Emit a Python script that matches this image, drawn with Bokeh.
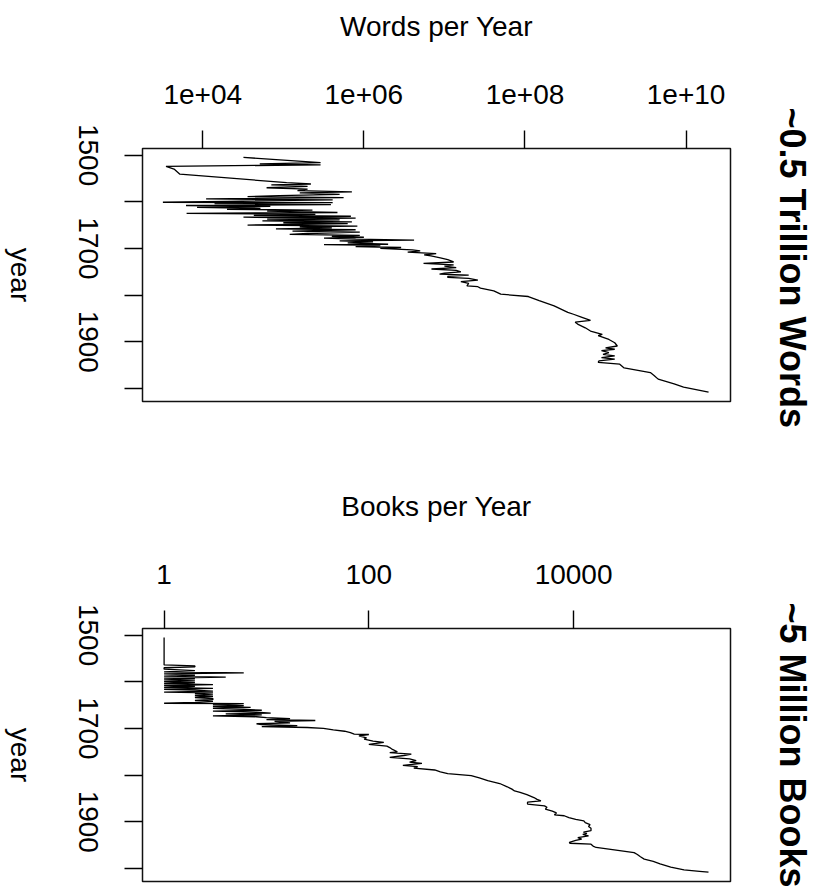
import math
from bokeh.plotting import figure
from bokeh.models import Range1d, FixedTicker, LinearAxis, Title
from bokeh.core.properties import value
from bokeh.layouts import column, row
from bokeh.embed import file_html
from bokeh.resources import INLINE

# ---- data ----
word_years = [1505, 1516, 1519, 1521, 1524, 1530, 1541, 1559, 1562, 1564, 1567, 1570, 1573, 1576,
              1579, 1581, 1584, 1587, 1589, 1591, 1594, 1596, 1599, 1601, 1602, 1604, 1606, 1608,
              1610, 1612, 1614, 1616, 1618, 1620, 1623, 1625, 1627, 1629, 1631, 1633, 1635, 1637,
              1639, 1641, 1643, 1645, 1647, 1650, 1652, 1654, 1656, 1658, 1660, 1663, 1665, 1668,
              1670, 1672, 1674, 1676, 1678, 1680, 1682, 1684, 1686, 1688, 1691, 1692, 1694, 1696,
              1698, 1700, 1703, 1705, 1708, 1711, 1714, 1716, 1720, 1724, 1729, 1732, 1735, 1738,
              1741, 1744, 1747, 1750, 1753, 1755, 1757, 1760, 1762, 1764, 1768, 1771, 1775, 1780,
              1782, 1785, 1791, 1798, 1803, 1812, 1823, 1837, 1841, 1847, 1854, 1858, 1862, 1870,
              1877, 1884, 1887, 1895, 1902, 1909, 1913, 1916, 1919, 1923, 1927, 1930, 1934, 1937,
              1941, 1944, 1948, 1956, 1966, 1972, 1980, 1990, 1997, 2008]
word_counts = [3.2e4, 2.9e5, 5.1e4, 2.9e5, 3.5e3, 4.4e3, 5.2e3, 1.1e5, 2.2e5, 7.1e4, 2.0e5, 6.2e4, 2.0e5, 1.5e5,
               7.1e5, 1.6e5, 5.0e5, 8.9e4, 3.6e4, 5.6e5, 1.1e4, 4.1e5, 2.0e4, 3.2e3, 4.1e5, 1.4e4, 3.9e5, 6.2e3,
               6.9e4, 8.5e3, 5.2e4, 2.0e4, 2.3e5, 6.3e4, 4.7e5, 6.3e3, 2.5e5, 4.3e4, 6.9e5, 3.2e4, 7.9e5, 6.3e4,
               5.0e5, 5.5e4, 7.1e5, 1.0e5, 6.3e5, 3.6e4, 8.3e5, 1.6e5, 4.0e5, 8.1e4, 7.9e5, 1.3e5, 8.9e5, 2.0e5,
               1.2e5, 8.9e5, 4.0e5, 1.0e6, 3.2e5, 7.9e5, 4.2e6, 5.0e5, 1.3e6, 6.3e5, 2.0e6, 3.2e5, 1.6e6, 7.9e5,
               2.9e6, 1.6e6, 4.0e6, 5.0e6, 3.5e6, 7.9e6, 5.6e6, 6.8e6, 8.9e6, 1.1e7, 1.3e7, 5.5e6, 1.3e7, 1.0e7,
               1.4e7, 6.9e6, 1.4e7, 1.6e7, 1.0e7, 8.7e6, 2.0e7, 1.1e7, 1.1e7, 2.0e7, 2.6e7, 1.6e7, 2.0e7, 1.9e7,
               2.6e7, 2.8e7, 4.1e7, 5.0e7, 1.1e8, 1.5e8, 2.3e8, 3.4e8, 4.0e8, 5.0e8, 6.5e8, 4.2e8, 4.5e8, 5.6e8,
               6.5e8, 9.1e8, 8.1e8, 1.1e9, 1.3e9, 1.4e9, 1.0e9, 1.3e9, 8.9e8, 1.1e9, 9.3e8, 1.3e9, 8.9e8, 1.3e9,
               8.3e8, 8.1e8, 1.5e9, 1.7e9, 3.6e9, 4.0e9, 4.5e9, 7.1e9, 9.3e9, 1.9e10]

book_years = [1505, 1564, 1566, 1568, 1570, 1573, 1576, 1579, 1581, 1583, 1586, 1588, 1590, 1592,
              1594, 1596, 1598, 1600, 1602, 1604, 1606, 1608, 1610, 1612, 1614, 1616, 1618, 1620,
              1622, 1624, 1626, 1628, 1630, 1632, 1634, 1636, 1638, 1640, 1642, 1644, 1646, 1647,
              1649, 1651, 1653, 1655, 1657, 1659, 1661, 1663, 1665, 1667, 1669, 1671, 1673, 1675,
              1677, 1679, 1681, 1683, 1685, 1688, 1690, 1692, 1694, 1696, 1698, 1700, 1703, 1706,
              1709, 1712, 1713, 1716, 1720, 1723, 1727, 1730, 1734, 1738, 1741, 1745, 1750, 1752,
              1755, 1758, 1762, 1765, 1769, 1772, 1775, 1779, 1782, 1785, 1789, 1793, 1797, 1801,
              1806, 1812, 1818, 1825, 1830, 1834, 1837, 1842, 1848, 1852, 1855, 1858, 1862, 1866,
              1869, 1873, 1877, 1881, 1885, 1887, 1891, 1895, 1898, 1902, 1906, 1910, 1914, 1919,
              1922, 1925, 1927, 1930, 1934, 1937, 1940, 1944, 1946, 1948, 1952, 1955, 1960, 1966,
              1970, 1975, 1980, 1985, 1990, 1997, 2003, 2006, 2008]
book_counts = [1, 1, 2, 2, 1, 1, 2, 1, 6, 1, 2, 1, 4, 1,
               2, 1, 2, 1, 2, 1, 3, 1, 2, 1, 3, 1, 2, 3,
               1, 3, 2, 3, 2, 3, 2, 3, 3, 2, 3, 2, 1, 6,
               3, 6, 3, 7, 3, 6, 9, 3, 8, 11, 4, 9, 3, 8,
               10, 17, 10, 30, 12, 17, 8, 9, 20, 9, 25, 36, 45, 58,
               66, 72, 100, 80, 95, 90, 110, 140, 100, 150, 160, 170, 190, 160,
               260, 220, 160, 250, 290, 250, 330, 215, 300, 275, 440, 500, 590, 1000,
               1200, 1450, 1900, 2250, 2500, 2650, 3000, 3500, 4100, 4400, 4800, 3550, 3550, 5200,
               5500, 5300, 6200, 6800, 6500, 8100, 9000, 10500, 12600, 13000, 14500, 14000, 14800, 14800,
               12500, 13500, 12300, 14000, 11000, 12000, 10500, 9100, 9200, 14800, 15500, 16600, 25000, 39000,
               42000, 45000, 49000, 60000, 70000, 89000, 120000, 170000, 208000]

year_ticks = [1500, 1600, 1700, 1800, 1900, 2000]
year_tick_labels = ["1500", "", "1700", "", "1900", ""]
word_ticks = [1e4, 1e6, 1e8, 1e10]
word_tick_labels = ["1e+04", "1e+06", "1e+08", "1e+10"]
book_ticks = [1, 100, 10000]
book_tick_labels = ["1", "100", "10000"]

FONT = "Liberation Sans"
TICK_FS = "28px"
LABEL_FS = "28px"
SIDE_FS = "36px"

Y_BOTTOM, Y_TOP = 2027.9, 1485.9
FRAME_W, FRAME_H = 588, 253
LEFT_FRAME_W, LEFT_RIGHT_B = 66, 40      # left strip: "year" + year tick labels
MAIN_LEFT_B, MAIN_RIGHT_B = 36, 2
SIDE_FRAME_W = 39                        # right strip: empty gap, then the bold side label


def make_row(xs, ys, x_lo, x_hi, ticks, tick_labels, title, side_label, side_offset,
             top_b, bottom_b):
    yr = Range1d(Y_BOTTOM, Y_TOP)

    # ---- main panel ----
    p = figure(x_axis_type="log", x_axis_location="above",
               x_range=Range1d(x_lo, x_hi), y_range=yr,
               frame_width=FRAME_W, frame_height=FRAME_H,
               min_border_left=MAIN_LEFT_B, min_border_right=MAIN_RIGHT_B,
               min_border_top=top_b, min_border_bottom=bottom_b,
               output_backend="svg", toolbar_location=None)
    p.background_fill_color = "white"
    p.border_fill_color = "white"
    p.grid.visible = False
    p.outline_line_color = "#111111"
    p.outline_line_width = 1.5

    p.line(xs, ys, line_color="black", line_width=1.3)

    xa = p.xaxis[0]
    xa.ticker = FixedTicker(ticks=ticks)
    xa.major_label_overrides = {float(t): s for t, s in zip(ticks, tick_labels)}
    xa.axis_line_color = None
    xa.major_tick_out = 18
    xa.major_tick_in = 0
    xa.major_tick_line_width = 1.4
    xa.major_tick_line_color = "black"
    xa.minor_tick_line_color = None
    xa.major_label_standoff = 27
    xa.major_label_text_font = FONT
    xa.major_label_text_font_size = TICK_FS
    xa.major_label_text_color = "black"
    xa.axis_label = title
    xa.axis_label_standoff = 40
    xa.axis_label_text_font = FONT
    xa.axis_label_text_font_size = LABEL_FS
    xa.axis_label_text_font_style = "normal"
    xa.axis_label_text_color = "black"

    ya = p.yaxis[0]
    ya.ticker = FixedTicker(ticks=year_ticks)
    ya.major_label_overrides = {t: "" for t in year_ticks}
    ya.major_label_text_font_size = "0px"
    ya.major_label_standoff = 0
    ya.axis_line_color = None
    ya.major_tick_out = 18
    ya.major_tick_in = 0
    ya.major_tick_line_width = 1.4
    ya.major_tick_line_color = "black"
    ya.minor_tick_line_color = None

    # ---- left strip: rotated year labels and the "year" title ----
    left = figure(x_range=Range1d(0, LEFT_FRAME_W), y_range=yr,
                  frame_width=LEFT_FRAME_W, frame_height=FRAME_H,
                  min_border_left=0, min_border_right=LEFT_RIGHT_B,
                  min_border_top=top_b, min_border_bottom=bottom_b,
                  x_axis_type=None, y_axis_type=None,
                  output_backend="svg", toolbar_location=None)
    left.outline_line_color = None
    left.grid.visible = False
    la = LinearAxis(ticker=FixedTicker(ticks=year_ticks))
    la.major_label_overrides = {t: s for t, s in zip(year_ticks, year_tick_labels)}
    la.major_label_orientation = "vertical"
    la.major_label_standoff = 6
    la.major_label_text_font = FONT
    la.major_label_text_font_size = TICK_FS
    la.major_label_text_color = "black"
    la.axis_line_color = None
    la.major_tick_line_color = None
    la.minor_tick_line_color = None
    left.add_layout(la, "right")
    left.text(x=[20], y=[(Y_BOTTOM + Y_TOP) / 2], text=["year"], angle=-math.pi / 2,
              text_align="center", text_baseline="middle",
              text_font=value(FONT), text_font_size=value(LABEL_FS), text_color="black")

    # ---- right strip: bold side label reading top to bottom ----
    side = figure(x_range=Range1d(0, 1), y_range=yr,
                  frame_width=SIDE_FRAME_W, frame_height=FRAME_H,
                  min_border_left=0, min_border_right=0,
                  min_border_top=top_b, min_border_bottom=bottom_b,
                  x_axis_type=None, y_axis_type=None,
                  output_backend="svg", toolbar_location=None)
    side.outline_line_color = None
    side.add_layout(Title(text=side_label, align="left", offset=side_offset, standoff=1,
                          text_font=FONT, text_font_size=SIDE_FS, text_font_style="bold",
                          text_color="black"), "right")

    return row(left, p, side, spacing=0)


r1 = make_row(word_counts, word_years, 10 ** 3.252, 10 ** 10.551, word_ticks, word_tick_labels,
              "Words per Year", "~0.5 Trillion Words", -41, 148, 69)
r2 = make_row(book_counts, book_years, 10 ** -0.211, 10 ** 5.533, book_ticks, book_tick_labels,
              "Books per Year", "~5 Million Books", -26, 158, 8)

layout = column(r1, r2, spacing=0)
open("out.html", "w").write(file_html(layout, INLINE))
